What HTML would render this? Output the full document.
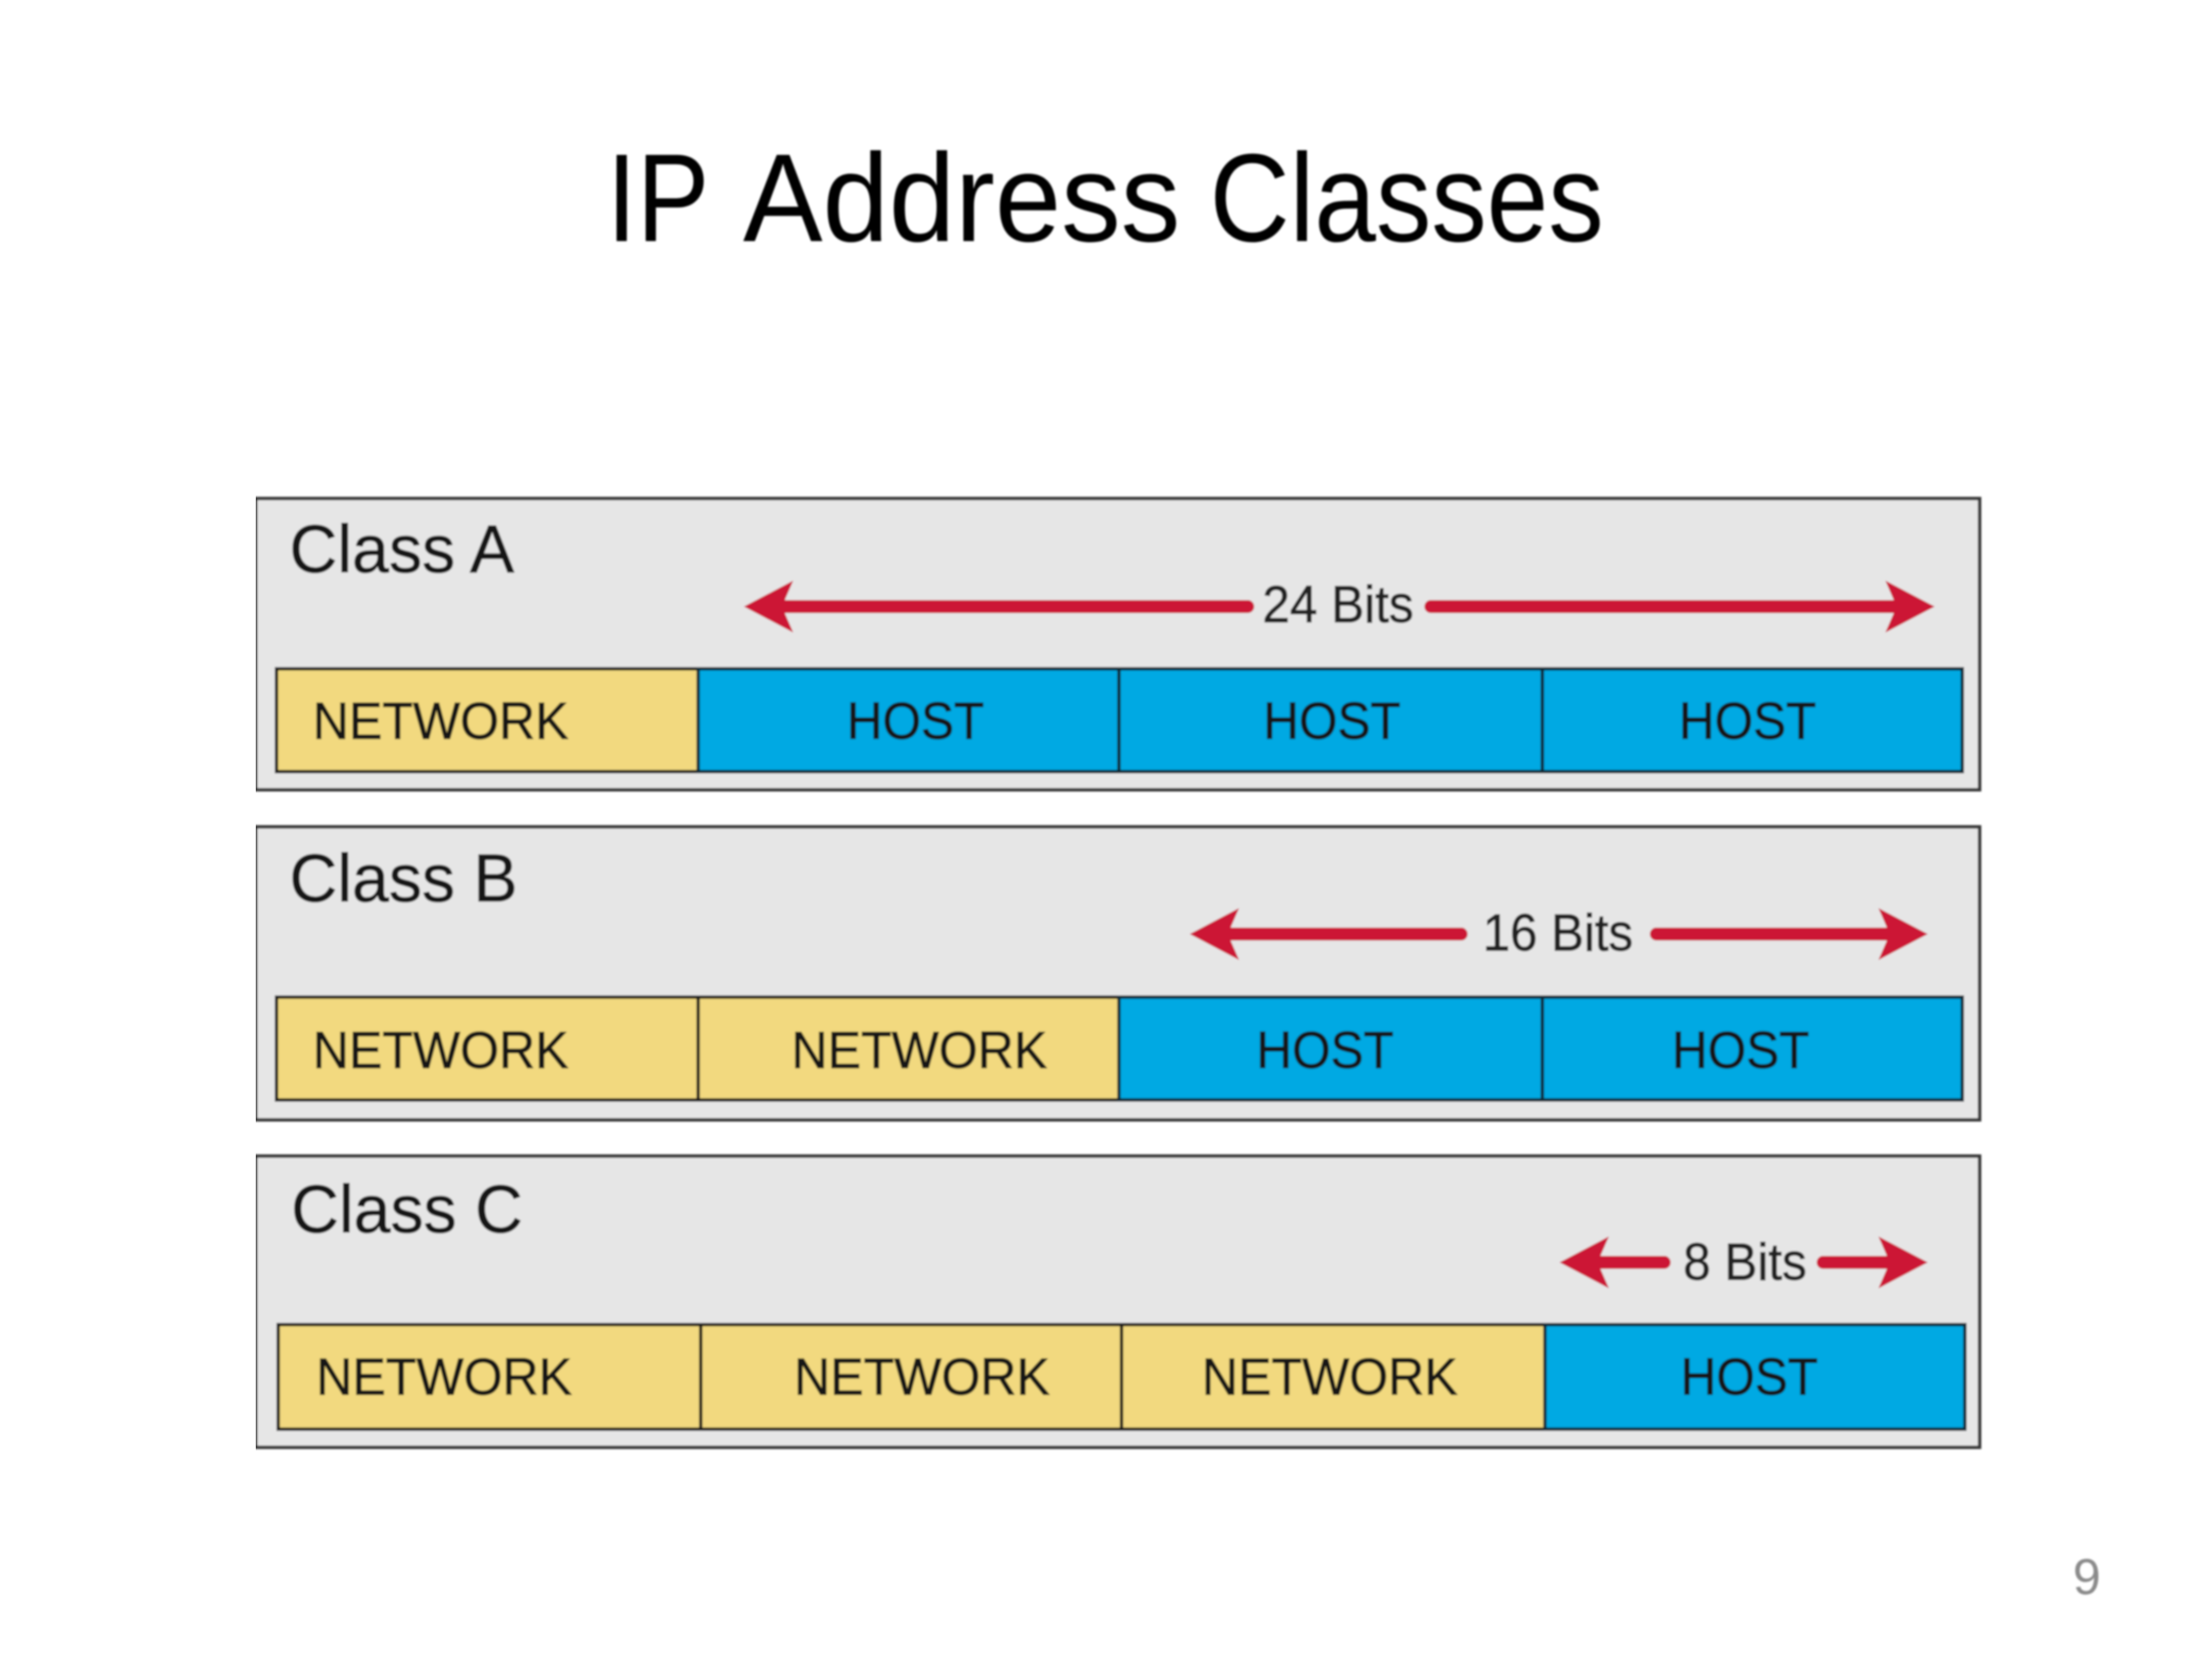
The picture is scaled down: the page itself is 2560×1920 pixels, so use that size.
<!DOCTYPE html>
<html><head><meta charset="utf-8"><title>IP Address Classes</title>
<style>html,body{margin:0;padding:0;background:#fff}svg{display:block}
text{font-family:"Liberation Sans",Arial,sans-serif;fill:#141414;stroke:#141414;stroke-width:.9}
.c{font-size:78px}.n{font-size:60px}.b{font-size:60px;fill:#222;stroke:#222}
.t{font-size:145px;fill:#000;stroke:none}
.p{fill:#e6e6e6;stroke:#383838;stroke-width:4}
.y{fill:#f2d97f;stroke:#1e1e1e;stroke-width:4}
.h{fill:#00a9e3;stroke:#0a2a38;stroke-width:4}
.r{fill:#cc1236}.l{stroke:#cc1236;stroke-width:15;stroke-linecap:round}
</style></head><body>
<svg width="2560" height="1920" viewBox="0 0 2560 1920" xmlns="http://www.w3.org/2000/svg">
<defs><filter id="f" x="0" y="0" width="100%" height="100%"><feGaussianBlur stdDeviation="1"/></filter></defs>
<rect width="2560" height="1920" fill="#fff"/>
<g filter="url(#f)">
<text class="t" x="702" y="279" textLength="119" lengthAdjust="spacingAndGlyphs">IP</text>
<text class="t" x="860" y="279" textLength="506" lengthAdjust="spacingAndGlyphs">Address</text>
<text class="t" x="1400" y="279" textLength="456" lengthAdjust="spacingAndGlyphs">Classes</text>

<rect class="p" x="296" y="577" width="1995" height="337"/>
<rect class="p" x="296" y="957" width="1995" height="339"/>
<rect class="p" x="296" y="1338" width="1995" height="337"/>

<text class="c" x="335" y="662" textLength="260" lengthAdjust="spacingAndGlyphs">Class A</text>
<text class="c" x="335" y="1043" textLength="264" lengthAdjust="spacingAndGlyphs">Class B</text>
<text class="c" x="337" y="1426" textLength="268" lengthAdjust="spacingAndGlyphs">Class C</text>

<!-- A bar -->
<rect class="y" x="320" y="774" width="488" height="119"/>
<rect class="h" x="808" y="774" width="487" height="119"/>
<rect class="h" x="1295" y="774" width="490" height="119"/>
<rect class="h" x="1785" y="774" width="486" height="119"/>
<text class="n" x="362" y="855" textLength="296" lengthAdjust="spacingAndGlyphs">NETWORK</text>
<text class="n" x="980" y="855" textLength="159" lengthAdjust="spacingAndGlyphs">HOST</text>
<text class="n" x="1462" y="855" textLength="159" lengthAdjust="spacingAndGlyphs">HOST</text>
<text class="n" x="1943" y="855" textLength="159" lengthAdjust="spacingAndGlyphs">HOST</text>

<!-- B bar -->
<rect class="y" x="320" y="1154" width="488" height="119"/>
<rect class="y" x="808" y="1154" width="487" height="119"/>
<rect class="h" x="1295" y="1154" width="490" height="119"/>
<rect class="h" x="1785" y="1154" width="486" height="119"/>
<text class="n" x="362" y="1236" textLength="296" lengthAdjust="spacingAndGlyphs">NETWORK</text>
<text class="n" x="916" y="1236" textLength="296" lengthAdjust="spacingAndGlyphs">NETWORK</text>
<text class="n" x="1454" y="1236" textLength="159" lengthAdjust="spacingAndGlyphs">HOST</text>
<text class="n" x="1935" y="1236" textLength="159" lengthAdjust="spacingAndGlyphs">HOST</text>

<!-- C bar -->
<rect class="y" x="322" y="1533" width="489" height="121"/>
<rect class="y" x="811" y="1533" width="487" height="121"/>
<rect class="y" x="1298" y="1533" width="490" height="121"/>
<rect class="h" x="1788" y="1533" width="486" height="121"/>
<text class="n" x="366" y="1614" textLength="296" lengthAdjust="spacingAndGlyphs">NETWORK</text>
<text class="n" x="919" y="1614" textLength="296" lengthAdjust="spacingAndGlyphs">NETWORK</text>
<text class="n" x="1391" y="1614" textLength="296" lengthAdjust="spacingAndGlyphs">NETWORK</text>
<text class="n" x="1945" y="1614" textLength="159" lengthAdjust="spacingAndGlyphs">HOST</text>

<!-- A arrow -->
<line class="l" x1="900" y1="702" x2="1444" y2="702"/>
<line class="l" x1="1656" y1="702" x2="2200" y2="702"/>
<polygon class="r" points="861,702 918,672 905,702 918,732"/>
<polygon class="r" points="2239,702 2182,672 2195,702 2182,732"/>
<text class="b" x="1461" y="720" textLength="175" lengthAdjust="spacingAndGlyphs">24 Bits</text>

<!-- B arrow -->
<line class="l" x1="1416" y1="1081" x2="1691" y2="1081"/>
<line class="l" x1="1917" y1="1081" x2="2192" y2="1081"/>
<polygon class="r" points="1377,1081 1434,1051 1421,1081 1434,1111"/>
<polygon class="r" points="2231,1081 2174,1051 2187,1081 2174,1111"/>
<text class="b" x="1716" y="1100" textLength="174" lengthAdjust="spacingAndGlyphs">16 Bits</text>

<!-- C arrow -->
<line class="l" x1="1844" y1="1461" x2="1926" y2="1461"/>
<line class="l" x1="2110" y1="1461" x2="2192" y2="1461"/>
<polygon class="r" points="1805,1461 1862,1431 1849,1461 1862,1491"/>
<polygon class="r" points="2231,1461 2174,1431 2187,1461 2174,1491"/>
<text class="b" x="1948" y="1481" textLength="143" lengthAdjust="spacingAndGlyphs">8 Bits</text>

<text x="2399" y="1845" font-size="58" style="fill:#8a8a8a;stroke:none">9</text>
</g>
</svg>
</body></html>
